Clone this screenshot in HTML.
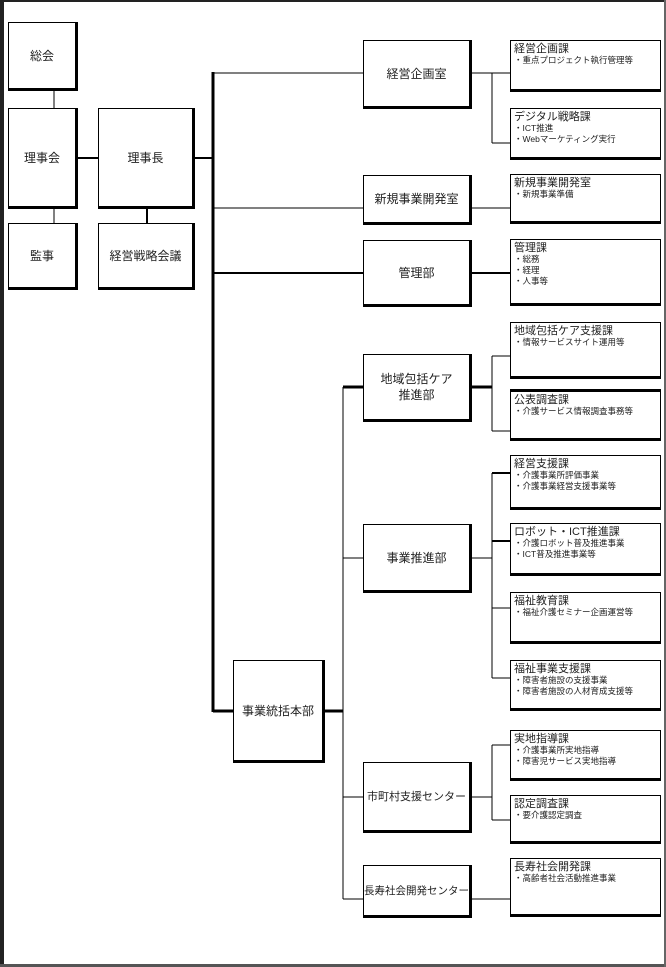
<!DOCTYPE html>
<html><head><meta charset="utf-8"><style>
body{margin:0;width:666px;height:967px;position:relative;background:#fff;overflow:hidden;font-family:"Liberation Sans","Noto Sans CJK JP",sans-serif;color:#222}
.b{position:absolute;box-sizing:border-box;border:1.5px solid #000;border-right-width:3px;border-bottom-width:3px;display:flex;align-items:center;justify-content:center;text-align:center;font-size:12px;line-height:16px;background:#fff}
.r{position:absolute;box-sizing:border-box;border:1.5px solid #000;border-bottom-width:3px;left:510px;width:151px;font-size:11px;line-height:12px;padding:2px 3px;background:#fff}
.r small{display:block;font-size:8.5px;line-height:11px}
</style></head><body>
<div style="position:absolute;left:0;top:0;width:666px;height:2px;background:#222"></div>
<div style="position:absolute;left:0;top:0;width:4px;height:967px;background:#222"></div>
<div style="position:absolute;left:0;top:964px;width:666px;height:3px;background:#555"></div>
<div style="position:absolute;left:664px;top:0;width:2px;height:967px;background:#666"></div>
<svg width="666" height="967" style="position:absolute;left:0;top:0">
<g stroke="#000" fill="none">
<line x1="54" y1="90" x2="54" y2="108" stroke-width="1"/>
<line x1="54" y1="208" x2="54" y2="224" stroke-width="1"/>
<line x1="77" y1="158" x2="98" y2="158" stroke-width="2"/>
<line x1="147" y1="208" x2="147" y2="224" stroke-width="2"/>
<line x1="194" y1="158" x2="213" y2="158" stroke-width="2"/>
<line x1="213" y1="72" x2="213" y2="712" stroke-width="3"/>
<line x1="213" y1="73" x2="363" y2="73" stroke-width="1"/>
<line x1="213" y1="208" x2="363" y2="208" stroke-width="1"/>
<line x1="213" y1="273" x2="363" y2="273" stroke-width="2"/>
<line x1="213" y1="711" x2="233" y2="711" stroke-width="3"/>
<line x1="324" y1="711" x2="343" y2="711" stroke-width="3"/>
<line x1="343" y1="387" x2="343" y2="899" stroke-width="1"/>
<line x1="343" y1="387" x2="363" y2="387" stroke-width="3"/>
<line x1="343" y1="558" x2="363" y2="558" stroke-width="1"/>
<line x1="343" y1="797" x2="363" y2="797" stroke-width="1"/>
<line x1="343" y1="899" x2="363" y2="899" stroke-width="1"/>
<line x1="471" y1="73" x2="510" y2="73" stroke-width="1"/>
<line x1="492" y1="73" x2="492" y2="143" stroke-width="1"/>
<line x1="492" y1="143" x2="510" y2="143" stroke-width="1"/>
<line x1="471" y1="208" x2="510" y2="208" stroke-width="1"/>
<line x1="471" y1="273" x2="510" y2="273" stroke-width="2"/>
<line x1="471" y1="387" x2="492" y2="387" stroke-width="3"/>
<line x1="492" y1="356" x2="492" y2="431" stroke-width="1"/>
<line x1="492" y1="356" x2="510" y2="356" stroke-width="1"/>
<line x1="492" y1="431" x2="510" y2="431" stroke-width="1"/>
<line x1="471" y1="558" x2="492" y2="558" stroke-width="1"/>
<line x1="492" y1="473" x2="492" y2="678" stroke-width="1"/>
<line x1="492" y1="473" x2="510" y2="473" stroke-width="2"/>
<line x1="492" y1="541" x2="510" y2="541" stroke-width="2"/>
<line x1="492" y1="608" x2="510" y2="608" stroke-width="1"/>
<line x1="492" y1="678" x2="510" y2="678" stroke-width="1"/>
<line x1="471" y1="797" x2="492" y2="797" stroke-width="1"/>
<line x1="492" y1="745" x2="492" y2="820" stroke-width="1"/>
<line x1="492" y1="745" x2="510" y2="745" stroke-width="1"/>
<line x1="492" y1="820" x2="510" y2="820" stroke-width="1"/>
<line x1="471" y1="899" x2="510" y2="899" stroke-width="1"/>
</g></svg>
<div class="b" style="left:8px;top:22px;width:70px;height:69px">総会</div>
<div class="b" style="left:8px;top:108px;width:70px;height:101px">理事会</div>
<div class="b" style="left:8px;top:223px;width:70px;height:67px">監事</div>
<div class="b" style="left:98px;top:108px;width:97px;height:101px">理事長</div>
<div class="b" style="left:98px;top:223px;width:97px;height:67px">経営戦略会議</div>
<div class="b" style="left:363px;top:40px;width:109px;height:69px">経営企画室</div>
<div class="b" style="left:363px;top:175px;width:109px;height:50px">新規事業開発室</div>
<div class="b" style="left:363px;top:240px;width:109px;height:67px">管理部</div>
<div class="b" style="left:363px;top:354px;width:109px;height:68px">地域包括ケア<br>推進部</div>
<div class="b" style="left:363px;top:524px;width:109px;height:69px">事業推進部</div>
<div class="b" style="left:233px;top:660px;width:92px;height:103px">事業統括本部</div>
<div class="b" style="left:363px;top:762px;width:109px;height:71px;font-size:11px">市町村支援センター</div>
<div class="b" style="left:363px;top:865px;width:109px;height:53px;font-size:10.5px">長寿社会開発センター</div>
<div class="r" style="top:40px;height:52px">経営企画課<small>・重点プロジェクト執行管理等</small></div>
<div class="r" style="top:108px;height:52px">デジタル戦略課<small>・ICT推進<br>・Webマーケティング実行</small></div>
<div class="r" style="top:174px;height:50px">新規事業開発室<small>・新規事業準備</small></div>
<div class="r" style="top:239px;height:67px">管理課<small>・総務<br>・経理<br>・人事等</small></div>
<div class="r" style="top:322px;height:57px">地域包括ケア支援課<small>・情報サービスサイト運用等</small></div>
<div class="r" style="top:389px;height:52px;border-top-width:3px">公表調査課<small>・介護サービス情報調査事務等</small></div>
<div class="r" style="top:455px;height:55px">経営支援課<small>・介護事業所評価事業<br>・介護事業経営支援事業等</small></div>
<div class="r" style="top:523px;height:53px">ロボット・ICT推進課<small>・介護ロボット普及推進事業<br>・ICT普及推進事業等</small></div>
<div class="r" style="top:592px;height:52px">福祉教育課<small>・福祉介護セミナー企画運営等</small></div>
<div class="r" style="top:660px;height:51px">福祉事業支援課<small>・障害者施設の支援事業<br>・障害者施設の人材育成支援等</small></div>
<div class="r" style="top:730px;height:51px">実地指導課<small>・介護事業所実地指導<br>・障害児サービス実地指導</small></div>
<div class="r" style="top:795px;height:49px">認定調査課<small>・要介護認定調査</small></div>
<div class="r" style="top:858px;height:59px">長寿社会開発課<small>・高齢者社会活動推進事業</small></div>
</body></html>
